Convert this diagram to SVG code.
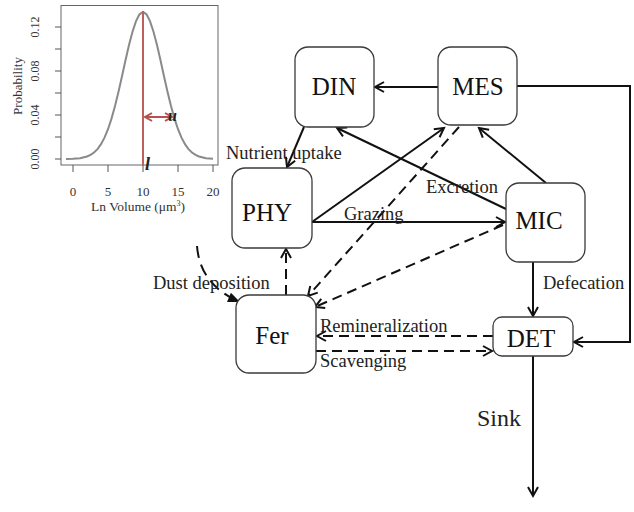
<svg xmlns="http://www.w3.org/2000/svg" width="634" height="512" viewBox="0 0 634 512">
<style>
.box{fill:#fff;stroke:#3a3a3a;stroke-width:1.3}
.nt{font-family:"Liberation Serif","Times New Roman",serif;font-size:25px;fill:#111;text-anchor:middle}
.lb{font-family:"Liberation Serif","Times New Roman",serif;font-size:18.5px;fill:#222}
.ax{font-family:"Liberation Serif","Times New Roman",serif;fill:#333}
.c{fill:none;stroke:#111;stroke-width:2}
.d{stroke-dasharray:10,6}
</style>
<defs>
<marker id="ah" markerUnits="userSpaceOnUse" markerWidth="12" markerHeight="12" refX="9" refY="5" orient="auto" overflow="visible">
<path d="M0,0 L9,5 L0,10" fill="none" stroke="#111" stroke-width="2"/>
</marker>
<marker id="af" markerUnits="userSpaceOnUse" markerWidth="14" markerHeight="12" refX="12" refY="5" orient="auto" overflow="visible">
<path d="M0,0 L12,5 L0,10 z" fill="#111"/>
</marker>
<marker id="ar" markerUnits="userSpaceOnUse" markerWidth="10" markerHeight="10" refX="7" refY="4" orient="auto-start-reverse" overflow="visible">
<path d="M0,0 L7,4 L0,8" fill="none" stroke="#b5524e" stroke-width="2"/>
</marker>
</defs>

<g id="inset">
<rect x="61" y="5.5" width="157" height="159.5" fill="#fff" stroke="#666" stroke-width="1"/>
<g stroke="#555" stroke-width="1">
<path d="M61,159 H55 M61,137 H55 M61,115 H55 M61,93 H55 M61,71 H55 M61,49 H55 M61,27 H55"/>
<path d="M73,165 V172 M108,165 V172 M143,165 V172 M178,165 V172 M213,165 V172"/>
</g>
<g class="ax" font-size="12" text-anchor="middle">
<text transform="translate(38.5,159) rotate(-90)">0.00</text>
<text transform="translate(38.5,115) rotate(-90)">0.04</text>
<text transform="translate(38.5,71) rotate(-90)">0.08</text>
<text transform="translate(38.5,27) rotate(-90)">0.12</text>
<text transform="translate(22,86) rotate(-90)" font-size="13">Probability</text>
</g>
<g class="ax" font-size="13" text-anchor="middle">
<text x="73" y="196">0</text>
<text x="108" y="196">5</text>
<text x="143" y="196">10</text>
<text x="178" y="196">15</text>
<text x="213" y="196">20</text>
</g>
<text class="ax" x="91" y="211" font-size="13.5">Ln Volume (μm<tspan font-size="8" dy="-5">3</tspan><tspan dy="5">)</tspan></text>
<polyline fill="none" stroke="#8a8a8a" stroke-width="2" points="66,158.9 73,158.8 80,158.2 87,156.5 90.5,154.9 94,152.5 97.5,149.1 101,144.2 104.5,137.6 108,129.2 111.5,118.6 115,106 118.5,91.7 122,76.2 125.5,60.3 129,45.1 132.5,31.7 136,21.1 139.5,14.3 143,12 146.5,14.3 150,21.1 153.5,31.7 157,45.1 160.5,60.3 164,76.2 167.5,91.7 171,106 174.5,118.6 178,129.2 181.5,137.6 185,144.2 188.5,149.1 192,152.5 195.5,154.9 199,156.5 206,158.2 213,158.8"/>
<line x1="143" y1="11" x2="143" y2="166" stroke="#c0605c" stroke-width="2"/>
<line x1="145" y1="117" x2="172" y2="117" stroke="#b5524e" stroke-width="2" marker-start="url(#ar)" marker-end="url(#ar)"/>
<text x="168" y="121" font-family="Liberation Serif,serif" font-style="italic" font-weight="bold" font-size="16" fill="#222">u</text>
<text x="145" y="170" font-family="Liberation Serif,serif" font-style="italic" font-weight="bold" font-size="18" fill="#222">l</text>
</g>

<g id="connectors">
<path class="c" d="M438,87 L375,87" marker-end="url(#ah)"/>
<path class="c" d="M517,86 L630,86 L630,342 L574,342" marker-end="url(#ah)"/>
<path class="c" d="M304,127 L287,167" marker-end="url(#ah)"/>
<path class="c" d="M506,209 L337,128" marker-end="url(#ah)"/>
<path class="c" d="M546,183 L479,128" marker-end="url(#ah)"/>
<path class="c" d="M312,222 L444,128" marker-end="url(#ah)"/>
<path class="c" d="M312,222 L505,222" marker-end="url(#ah)"/>
<path class="c d" d="M459,127 L308,296" marker-end="url(#ah)"/>
<path class="c d" d="M503,225 L315,307" marker-end="url(#ah)"/>
<path class="c d" d="M286,295 L286,249" marker-end="url(#ah)"/>
<path class="c" stroke-dasharray="12,7" d="M197,246 Q200,285 240,302" marker-end="url(#af)"/>
<path class="c d" d="M493,336 L317,336" marker-end="url(#ah)"/>
<path class="c d" d="M316,351 L492,351" marker-end="url(#ah)"/>
<path class="c" d="M533,262 L533,316" marker-end="url(#ah)"/>
<path class="c" d="M533,356 L533,496" marker-end="url(#ah)"/>
</g>

<g id="labels">
<text class="lb" x="226" y="159">Nutrient uptake</text>
<text class="lb" x="426" y="193">Excretion</text>
<text class="lb" x="344" y="220">Grazing</text>
<text class="lb" x="153" y="289">Dust deposition</text>
<text class="lb" x="320" y="332">Remineralization</text>
<text class="lb" x="320" y="367">Scavenging</text>
<text class="lb" x="543" y="289">Defecation</text>
<text class="lb" x="477" y="426" style="font-size:24px">Sink</text>
</g>

<g id="DIN"><rect class="box" x="295" y="47" width="79" height="80" rx="13"/><text class="nt" x="334" y="95">DIN</text></g>
<g id="MES"><rect class="box" x="438" y="47" width="79" height="78" rx="13"/><text class="nt" x="478" y="95">MES</text></g>
<g id="PHY"><rect class="box" x="232" y="168" width="80" height="80" rx="13"/><text class="nt" x="267" y="221">PHY</text></g>
<g id="Fer"><rect class="box" x="236" y="295" width="80" height="78" rx="13"/><text class="nt" x="272" y="344">Fer</text></g>
<g id="MIC"><rect class="box" x="506" y="183" width="79" height="79" rx="13"/><text class="nt" x="539" y="229">MIC</text></g>
<g id="DET"><rect class="box" x="493" y="317" width="80" height="39" rx="9"/><text class="nt" x="531" y="347">DET</text></g>
</svg>
